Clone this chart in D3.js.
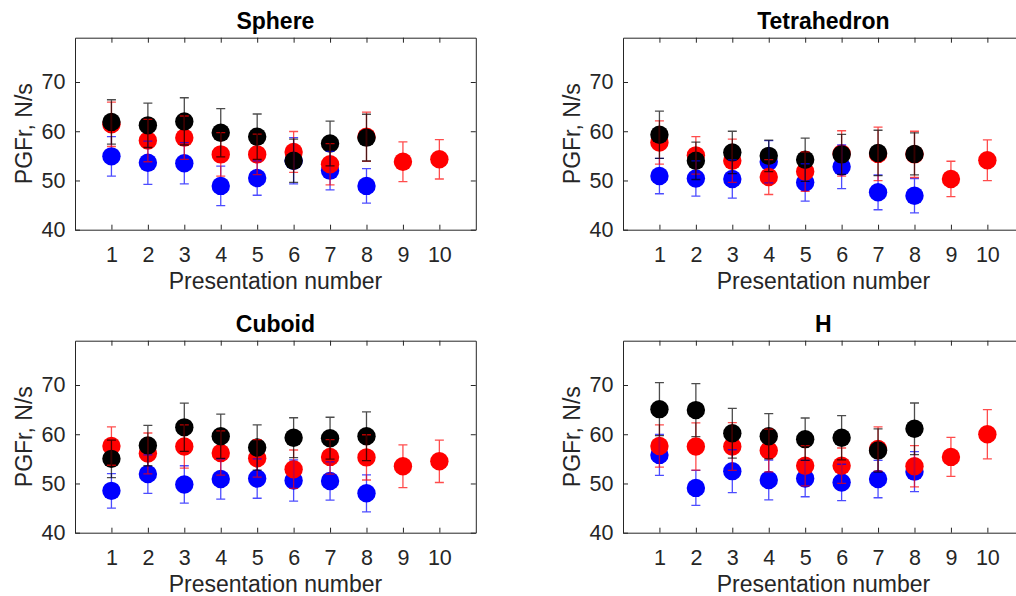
<!DOCTYPE html>
<html>
<head>
<meta charset="utf-8">
<script src="https://cdn.jsdelivr.net/npm/d3@7"></script>
<style>
  html, body { margin: 0; padding: 0; background: #fff; }
  svg { display: block; }
  text { font-family: "Liberation Sans", Arial, Helvetica, sans-serif; }
</style>
</head>
<body>
<svg id="chart" width="1016" height="596"></svg>
<script>
// ---- Data ----
const presentations = [1, 2, 3, 4, 5, 6, 7, 8, 9, 10];
const xTicks = [1, 2, 3, 4, 5, 6, 7, 8, 9, 10];
const yTicks = [40, 50, 60, 70];
const panelTitles = ["Sphere", "Tetrahedron", "Cuboid", "H"];

const sphereBlue      = [54.9, 53.6, 53.5, 48.9, 50.5, 54.0, 52.0, 48.9];
const sphereBlueErr   = [4.0, 4.4, 4.2, 4.0, 3.5, 4.7, 3.9, 3.5];
const sphereRed       = [61.4, 58.1, 58.7, 55.3, 55.3, 55.8, 53.3, 58.9, 53.8, 54.3];
const sphereRedErr    = [4.5, 4.3, 4.4, 4.4, 4.1, 4.15, 4.2, 5.0, 4.05, 4.0];
const sphereBlack     = [61.9, 61.2, 62.0, 59.7, 58.9, 54.0, 57.5, 58.7];
const sphereBlackErr  = [4.5, 4.5, 4.8, 4.9, 4.6, 4.4, 4.55, 4.75];

const tetraBlue       = [50.9, 50.4, 50.3, 53.8, 49.6, 52.8, 47.6, 46.9];
const tetraBlueErr    = [3.6, 3.6, 3.9, 4.3, 3.8, 4.45, 3.55, 3.5];
const tetraRed        = [57.7, 55.1, 54.0, 50.7, 51.8, 55.5, 55.4, 55.3, 50.3, 54.1];
const tetraRedErr     = [4.4, 3.8, 4.4, 3.55, 4.0, 4.6, 5.45, 4.7, 3.6, 4.15];
const tetraBlack      = [59.3, 54.0, 55.7, 55.0, 54.2, 55.3, 55.6, 55.4];
const tetraBlackErr   = [4.8, 3.8, 4.3, 3.2, 4.4, 4.05, 4.6, 4.25];

const cuboidBlue      = [48.5, 51.9, 49.8, 50.9, 51.0, 50.6, 50.5, 48.0];
const cuboidBlueErr   = [3.5, 3.9, 3.8, 4.1, 4.0, 4.2, 3.9, 3.75];
const cuboidRed       = [57.6, 56.1, 57.5, 56.2, 55.1, 52.9, 55.4, 55.3, 53.5, 54.5];
const cuboidRedErr    = [3.9, 4.15, 4.4, 4.5, 3.8, 3.9, 3.5, 4.6, 4.35, 4.3];
const cuboidBlack     = [55.0, 57.7, 61.4, 59.6, 57.3, 59.3, 59.2, 59.6];
const cuboidBlackErr  = [3.8, 4.1, 4.9, 4.5, 4.6, 4.05, 4.25, 4.95];

const hBlue           = [55.8, 49.1, 52.5, 50.7, 51.0, 50.2, 50.9, 52.4];
const hBlueErr        = [4.15, 3.55, 4.35, 4.05, 3.7, 3.7, 3.8, 4.05];
const hRed            = [57.6, 57.5, 57.5, 56.7, 53.6, 53.6, 57.0, 53.5, 55.4, 60.0];
const hRedErr         = [4.3, 4.8, 4.85, 4.35, 4.1, 3.6, 4.5, 4.2, 3.95, 5.0];
const hBlack          = [65.1, 64.9, 60.2, 59.6, 59.0, 59.3, 56.7, 61.1];
const hBlackErr       = [5.4, 5.4, 5.05, 4.6, 4.3, 4.5, 4.4, 5.25];

const seriesColors = { blue: "#0000ff", red: "#ff0000", black: "#000000" };

const panels = [
  { title: panelTitles[0], series: [
    { c: "blue", v: sphereBlue, e: sphereBlueErr },
    { c: "red", v: sphereRed, e: sphereRedErr },
    { c: "black", v: sphereBlack, e: sphereBlackErr }] },
  { title: panelTitles[1], series: [
    { c: "blue", v: tetraBlue, e: tetraBlueErr },
    { c: "red", v: tetraRed, e: tetraRedErr },
    { c: "black", v: tetraBlack, e: tetraBlackErr }] },
  { title: panelTitles[2], series: [
    { c: "blue", v: cuboidBlue, e: cuboidBlueErr },
    { c: "red", v: cuboidRed, e: cuboidRedErr },
    { c: "black", v: cuboidBlack, e: cuboidBlackErr }] },
  { title: panelTitles[3], series: [
    { c: "blue", v: hBlue, e: hBlueErr },
    { c: "red", v: hRed, e: hRedErr },
    { c: "black", v: hBlack, e: hBlackErr }] }
];

// ---- Layout ----
const svg = d3.select("#chart");
svg.append("rect").attr("width", 1016).attr("height", 596).attr("fill", "#fff");

const axW = 400.8, axH = 192;
const origins = [[75, 37.7], [623, 37.7], [75, 340.7], [623, 340.7]];
const axisColor = "#262626";
const tickLen = 5;

panels.forEach((p, i) => {
  const [ox, oy] = origins[i];
  const g = svg.append("g").attr("transform", `translate(${ox},${oy})`);
  const x = d3.scaleLinear().domain([0, 11]).range([0, axW]);
  const y = d3.scaleLinear().domain([40, 79]).range([axH, 0]);

  // Markers first (blue, red, black)
  p.series.forEach(s => {
    const pts = s.v.map((v, k) => ({ x: presentations[k], v, e: s.e[k] }));
    g.append("g").selectAll("circle").data(pts).join("circle")
      .attr("cx", d => x(d.x)).attr("cy", d => y(d.v)).attr("r", 9.2)
      .attr("fill", seriesColors[s.c]);
  });

  // Error bars drawn on top, semi-transparent
  p.series.forEach(s => {
    const pts = s.v.map((v, k) => ({ x: presentations[k], v, e: s.e[k] }));
    const eg = g.append("g").attr("stroke", seriesColors[s.c])
      .attr("stroke-width", 1.3).attr("stroke-opacity", 0.7).attr("fill", "none");
    eg.selectAll("path").data(pts).join("path")
      .attr("d", d => {
        const cx = x(d.x), t = y(d.v + d.e), b = y(d.v - d.e), w = 4.5;
        return `M${cx},${t}V${b}M${cx - w},${t}H${cx + w}M${cx - w},${b}H${cx + w}`;
      });
  });

  // Axes with inward ticks, all four sides
  const axB = d3.axisBottom(x).tickValues(xTicks).tickSizeInner(-tickLen).tickSizeOuter(0).tickPadding(17);
  const axT = d3.axisTop(x).tickValues(xTicks).tickSizeInner(-tickLen).tickSizeOuter(0).tickFormat("");
  const axL = d3.axisLeft(y).tickValues(yTicks).tickSizeInner(-tickLen).tickSizeOuter(0).tickPadding(9.5);
  const axR = d3.axisRight(y).tickValues(yTicks).tickSizeInner(-tickLen).tickSizeOuter(0).tickFormat("");

  const styleAxis = sel => {
    sel.select(".domain").attr("stroke", axisColor).attr("stroke-width", 1);
    sel.selectAll(".tick line").attr("stroke", axisColor).attr("stroke-width", 1);
    sel.selectAll(".tick text").attr("fill", axisColor)
      .style("font-family", '"Liberation Sans", Arial, sans-serif').style("font-size", "21.5px");
  };
  g.append("g").attr("transform", `translate(0,${axH})`).call(axB).call(styleAxis);
  g.append("g").call(axT).call(styleAxis);
  g.append("g").call(axL).call(styleAxis);
  g.append("g").attr("transform", `translate(${axW},0)`).call(axR).call(styleAxis);

  // Title
  g.append("text").attr("x", axW / 2).attr("y", -8.4).attr("text-anchor", "middle")
    .attr("font-size", 23).attr("font-weight", "bold").attr("fill", "#000").text(p.title);
  // X label
  g.append("text").attr("x", axW / 2).attr("y", axH + 59).attr("text-anchor", "middle")
    .attr("font-size", 23).attr("fill", axisColor).text("Presentation number");
  // Y label
  g.append("text").attr("transform", `translate(-43,${axH / 2}) rotate(-90)`)
    .attr("text-anchor", "middle").attr("font-size", 23).attr("fill", axisColor).text("PGFr, N/s");
});
</script>
</body>
</html>
